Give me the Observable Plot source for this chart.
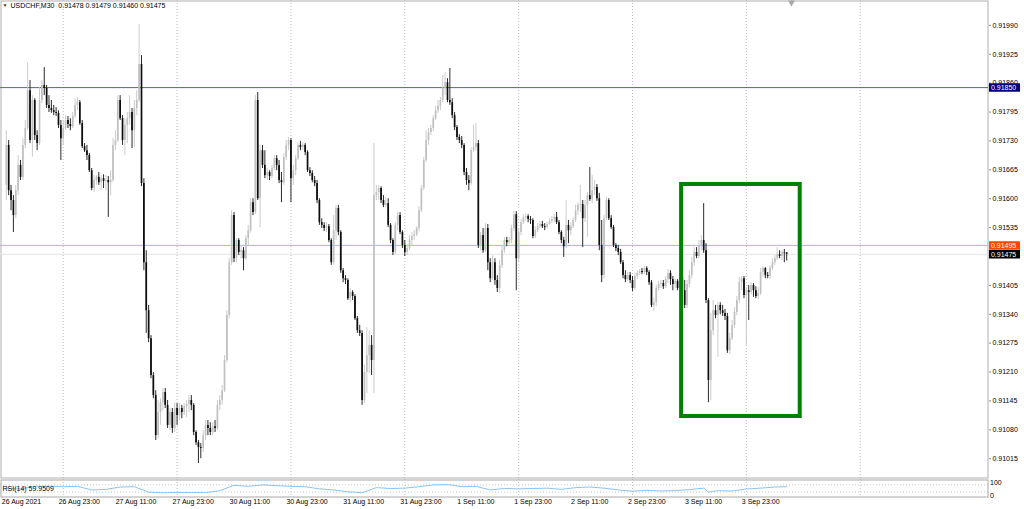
<!DOCTYPE html>
<html>
<head>
<meta charset="utf-8">
<script src="https://cdn.jsdelivr.net/npm/d3@7"></script>
<script src="https://cdn.jsdelivr.net/npm/@observablehq/plot@0.6"></script>
<style>
html,body{margin:0;padding:0;background:#fff;}
#chart svg{display:block;}
</style>
</head>
<body>
<div id="chart"></div>
<script>
// USDCHF M30 candles, prices in units of 0.00001
const opensPts = [
91630,91720,91618,91596,91562,91618,91675,91648,91720,91758,
91843,91731,91821,91742,91724,91821,91855,91848,91810,91803,
91798,91794,91792,91765,91735,91758,91776,91767,91762,91785,
91810,91816,91769,91717,91708,91697,91663,91623,91641,91648,
91636,91645,91639,91641,91636,91641,91720,91731,91821,91780,
91731,91765,91780,91794,91753,91803,91821,91902,91634,91456,
91348,91285,91202,91157,91067,91119,91141,91164,91135,91090,
91119,91083,91128,91112,91128,91119,91132,91137,91146,91135,
91074,91051,91040,91038,91067,91090,91083,91074,91087,91083,
91135,91146,91168,91236,91337,91456,91562,91465,91506,91479,
91483,91465,91510,91528,91591,91569,91821,91600,91708,91675,
91652,91659,91650,91668,91690,91675,91641,91636,91693,91720,
91731,91645,91663,91690,91720,91715,91720,91704,91663,91657,
91641,91634,91596,91546,91540,91533,91537,91506,91456,91528,
91578,91524,91438,91420,91416,91375,91389,91380,91330,91303,
91297,91146,91209,91247,91270,91236,91607,91614,91623,91596,
91585,91589,91540,91506,91479,91540,91562,91524,91495,91479,
91488,91506,91515,91519,91533,91573,91623,91686,91731,91749,
91758,91780,91798,91808,91821,91848,91861,91821,91816,91787,
91760,91738,91731,91720,91659,91641,91634,91708,91715,91724,
91495,91517,91483,91533,91456,91420,91456,91416,91398,91450,
91483,91506,91501,91506,91533,91564,91465,91524,91546,91558,
91560,91553,91551,91515,91528,91537,91542,91537,91535,91542,
91549,91553,91558,91546,91524,91506,91492,91540,91528,91537,
91551,91573,91585,91587,91555,91585,91607,91598,91618,91625,
91600,91495,91427,91555,91596,91555,91535,91495,91488,91479,
91456,91427,91418,91427,91416,91398,91425,91432,91436,91434,
91443,91434,91411,91360,91366,91398,91407,91409,91402,91418,
91432,91418,91407,91414,91398,91423,91393,91360,91407,91427,
91456,91479,91470,91495,91506,91483,91371,91191,91303,91348,
91337,91360,91348,91342,91335,91258,91285,91315,91344,91371,
91411,91420,91382,91393,91389,91405,91393,91380,91387,91434,
91443,91427,91425,91443,91456,91465,91474,91470,91479,91478
];
const highsPts = [
91753,91731,91630,91607,91630,91697,91686,91735,91776,91906,
91866,91832,91825,91753,91850,91866,91895,91855,91832,91821,
91810,91805,91798,91776,91776,91787,91785,91780,91794,91825,
91828,91821,91776,91724,91720,91702,91668,91652,91652,91659,
91652,91654,91652,91650,91663,91735,91753,91832,91832,91787,
91780,91794,91832,91803,91821,91843,91992,91922,91645,91483,
91360,91292,91209,91168,91146,91150,91173,91173,91146,91128,
91128,91141,91139,91139,91135,91139,91146,91157,91157,91139,
91078,91056,91049,91078,91101,91101,91096,91096,91101,91146,
91157,91180,91247,91348,91465,91573,91569,91510,91510,91495,
91490,91517,91540,91600,91600,91832,91839,91720,91720,91708,
91668,91663,91675,91697,91697,91686,91659,91702,91731,91738,
91735,91675,91697,91726,91729,91726,91724,91708,91670,91663,
91650,91641,91600,91555,91546,91546,91542,91510,91562,91585,
91585,91528,91443,91427,91420,91398,91393,91384,91335,91315,
91303,91225,91310,91303,91292,91724,91630,91630,91627,91607,
91603,91600,91544,91510,91546,91569,91569,91528,91506,91495,
91517,91524,91528,91537,91582,91630,91693,91753,91758,91765,
91787,91808,91821,91828,91877,91884,91870,91893,91825,91794,
91765,91744,91740,91724,91668,91652,91715,91765,91769,91731,
91524,91533,91544,91542,91465,91472,91465,91427,91461,91495,
91513,91513,91513,91540,91571,91571,91533,91553,91564,91567,
91564,91560,91555,91537,91544,91549,91549,91544,91546,91555,
91560,91564,91569,91551,91528,91513,91596,91551,91546,91558,
91585,91591,91630,91596,91596,91614,91670,91652,91641,91632,
91612,91551,91562,91603,91600,91562,91540,91499,91495,91486,
91461,91438,91434,91434,91425,91432,91438,91441,91443,91447,
91447,91438,91416,91375,91405,91414,91416,91416,91425,91441,
91438,91425,91418,91418,91432,91427,91416,91416,91438,91468,
91490,91490,91506,91517,91589,91499,91375,91342,91371,91360,
91366,91366,91360,91351,91342,91297,91326,91355,91380,91423,
91425,91425,91400,91405,91411,91409,91402,91400,91443,91447,
91445,91434,91450,91465,91472,91490,91483,91483,91486,91479
];
const lowsPts = [
91596,91607,91573,91524,91555,91607,91641,91641,91713,91753,
91724,91693,91731,91708,91720,91814,91832,91803,91794,91792,
91787,91785,91758,91686,91720,91753,91758,91753,91758,91780,
91798,91765,91713,91704,91686,91659,91618,91614,91630,91630,
91618,91623,91618,91558,91607,91636,91708,91726,91776,91720,
91697,91724,91765,91713,91715,91787,91816,91627,91438,91297,
91276,91195,91150,91056,91060,91090,91123,91128,91083,91078,
91072,91074,91090,91101,91105,91112,91108,91119,91123,91067,
91045,91004,91015,91029,91056,91067,91067,91067,91074,91078,
91123,91135,91164,91231,91330,91450,91456,91456,91472,91465,
91438,91461,91495,91522,91562,91564,91596,91535,91668,91645,
91641,91641,91645,91663,91663,91634,91591,91630,91686,91708,
91591,91630,91652,91686,91708,91708,91697,91659,91650,91636,
91627,91589,91540,91533,91526,91524,91501,91450,91450,91506,
91517,91432,91411,91407,91371,91366,91371,91326,91297,91290,
91135,91139,91162,91206,91202,91162,91596,91596,91589,91580,
91580,91535,91499,91472,91474,91528,91519,91488,91470,91472,
91483,91492,91506,91515,91526,91569,91618,91681,91720,91742,
91751,91776,91792,91798,91816,91832,91816,91810,91780,91753,
91731,91724,91713,91652,91630,91618,91630,91704,91708,91488,
91483,91477,91479,91438,91411,91416,91405,91389,91387,91443,
91477,91492,91497,91499,91526,91393,91456,91517,91542,91549,
91546,91542,91510,91510,91524,91533,91533,91528,91531,91540,
91544,91546,91542,91519,91499,91468,91488,91499,91517,91533,
91546,91562,91569,91490,91546,91513,91594,91589,91607,91594,
91483,91411,91420,91551,91551,91531,91490,91481,91472,91452,
91420,91411,91414,91409,91391,91393,91418,91427,91429,91429,
91427,91405,91355,91346,91357,91393,91398,91396,91398,91409,
91405,91393,91398,91393,91393,91371,91353,91353,91400,91420,
91447,91465,91465,91483,91477,91364,91141,91146,91292,91330,
91243,91339,91335,91326,91252,91249,91281,91308,91337,91364,
91393,91375,91270,91326,91384,91378,91375,91373,91382,91423,
91420,91420,91418,91438,91450,91461,91465,91461,91456,91460
];
const closesPts = [
91720,91618,91596,91562,91618,91675,91648,91720,91758,91843,
91731,91821,91742,91724,91821,91855,91848,91810,91803,91798,
91794,91792,91765,91735,91758,91776,91767,91762,91785,91810,
91816,91769,91717,91708,91697,91663,91623,91641,91648,91636,
91645,91639,91641,91636,91641,91720,91731,91821,91780,91731,
91765,91780,91794,91753,91803,91821,91902,91634,91456,91348,
91285,91202,91157,91067,91119,91141,91164,91135,91090,91119,
91083,91128,91112,91128,91119,91132,91137,91146,91135,91074,
91051,91040,91038,91067,91090,91083,91074,91087,91083,91135,
91146,91168,91236,91337,91456,91562,91465,91506,91479,91483,
91465,91510,91528,91591,91569,91821,91600,91708,91675,91652,
91659,91650,91668,91690,91675,91641,91636,91693,91720,91731,
91645,91663,91690,91720,91715,91720,91704,91663,91657,91641,
91634,91596,91546,91540,91533,91537,91506,91456,91528,91578,
91524,91438,91420,91416,91375,91389,91380,91330,91303,91297,
91146,91209,91247,91270,91236,91607,91614,91623,91596,91585,
91589,91540,91506,91479,91540,91562,91524,91495,91479,91488,
91506,91515,91519,91533,91573,91623,91686,91731,91749,91758,
91780,91798,91808,91821,91848,91861,91821,91816,91787,91760,
91738,91731,91720,91659,91641,91634,91708,91715,91724,91495,
91517,91483,91533,91456,91420,91456,91416,91398,91450,91483,
91506,91501,91506,91533,91564,91465,91524,91546,91558,91560,
91553,91551,91515,91528,91537,91542,91537,91535,91542,91549,
91553,91558,91546,91524,91506,91492,91540,91528,91537,91551,
91573,91585,91587,91555,91585,91607,91598,91618,91625,91600,
91495,91427,91555,91596,91555,91535,91495,91488,91479,91456,
91427,91418,91427,91416,91398,91425,91432,91436,91434,91443,
91434,91411,91360,91366,91398,91407,91409,91402,91418,91432,
91418,91407,91414,91398,91423,91393,91360,91407,91427,91456,
91479,91470,91495,91506,91483,91371,91191,91303,91348,91337,
91360,91348,91342,91335,91258,91285,91315,91344,91371,91411,
91420,91382,91393,91389,91405,91393,91380,91387,91434,91443,
91427,91425,91443,91456,91465,91474,91470,91479,91478,91475
];

// RSI(14) (bar index -> value)
const rsiBars = [0,6,12,18,24,30,36,42,48,54,60,66,72,78,84,90,96,102,108,114,120,126,132,138,144,150,156,162,168,174,180,186,192,198,204,210,216,222,228,234,240,246,252,258,264,270,276,282,288,294,296,300,306,312,318,324,329];
const rsiValues = [50,48,62,63,60,62,42,45,58,60,30,26,28,28,27,38,68,62,70,66,62,60,48,42,32,26,55,50,52,60,70,72,60,62,42,50,48,50,52,45,55,58,52,42,35,40,36,38,44,52,30,38,36,47,52,58,59.9509];

// time axis
const timeTickBars = [0,24,48,72,96,120,144,168,192,216,240,264,288,312];
const timeTickLabels = ["26 Aug 2021","26 Aug 23:00","27 Aug 11:00","27 Aug 23:00","30 Aug 11:00","30 Aug 23:00","31 Aug 11:00","31 Aug 23:00","1 Sep 11:00","1 Sep 23:00","2 Sep 11:00","2 Sep 23:00","3 Sep 11:00","3 Sep 23:00"];
const gridBars = [24,72,120,168,216,264,312,360];

// price axis
const priceTicks = [0.91015,0.91080,0.91145,0.91210,0.91275,0.91340,0.91405,0.91535,0.91600,0.91665,0.91730,0.91795,0.91860,0.91925,0.91990];
const levelPrices = [0.91850, 0.91495];
const levelColors = ["#5252e6", "#ff9c80"];
const levelBoxColors = ["#000080", "#ff4500"];
const bidPrice = 0.91475;
const rsiScaleLabels = ["100", "0"];

// annotation rectangle (bar index, price)
const boxBars = [284.7, 334.7];
const boxPrices = [0.91110, 0.91632];

const symbolName = "USDCHF,M30";
const rsiName = "RSI(14)";

const n = opensPts.length;
const candles = d3.range(n).map(i => ({
  i, open: opensPts[i] / 1e5, high: highsPts[i] / 1e5, low: lowsPts[i] / 1e5, close: closesPts[i] / 1e5
}));
const last = candles[n - 1];
const f5 = d3.format(".5f");
const bull = "#c0c0c0", bear = "#0c0c0c";
const col = d => d.close >= d.open ? bull : bear;
const wickCol = d => d.close >= d.open ? "#cbcbcb" : "#2a2a2a";

const xDomain = [-2.445, 414.08];
const xMax = xDomain[1];
const font = "Liberation Sans, Arial, sans-serif";
const fs = 7;

const main = Plot.plot({
  width: 1024, height: 478,
  marginLeft: 0, marginRight: 36, marginTop: 0, marginBottom: 0,
  x: {domain: xDomain, axis: null},
  y: {domain: [0.909705, 0.92046], axis: null},
  style: {fontFamily: font, fontSize: "7px", background: "#fff", overflow: "visible", color: "#000"},
  marks: [
    Plot.frame({stroke: "#b0b0b0", inset: 0.5}),
    Plot.ruleX(gridBars, {stroke: "#bdbdbd", strokeDasharray: "1,2"}),
    Plot.ruleY([bidPrice], {stroke: "#e4e4e4"}),
    Plot.ruleY(levelPrices, {stroke: (d, i) => levelColors[i]}),
    Plot.ruleX(candles, {x: "i", y1: "low", y2: "high", stroke: wickCol, strokeWidth: 1}),
    Plot.ruleX(candles, {x: "i", y1: "open", y2: "close", stroke: col, strokeWidth: 1.7}),
    Plot.rect([0], {x1: () => boxBars[0], x2: () => boxBars[1], y1: () => boxPrices[0], y2: () => boxPrices[1], fill: "none", stroke: "#008000", strokeWidth: 4}),
    Plot.axisY({anchor: "right", ticks: priceTicks, tickFormat: f5, tickSize: 2, tickPadding: 2, fontSize: fs, stroke: "#888"}),
    Plot.ruleY([bidPrice], {x1: xMax + 0.4, x2: xMax + 13.5, stroke: "#000", strokeWidth: 8.5}),
    Plot.ruleY(levelPrices, {x1: xMax + 0.4, x2: xMax + 13.5, stroke: (d, i) => levelBoxColors[i], strokeWidth: 8.5}),
    Plot.text([bidPrice, ...levelPrices], {x: xMax + 0.4, y: d => d, text: d => f5(d), textAnchor: "start", dx: 1.5, fill: "#fff", fontSize: fs}),
    Plot.text(["\u25BC"], {frameAnchor: "top-left", dx: 2, dy: 3, lineAnchor: "top", textAnchor: "start", fontSize: 5, fill: "#333"}),
    Plot.text([`${symbolName}  ${f5(last.open)} ${f5(last.high)} ${f5(last.low)} ${f5(last.close)}`], {frameAnchor: "top-left", dx: 10, dy: 2.5, lineAnchor: "top", textAnchor: "start", fontSize: fs, fill: "#000"}),
    Plot.dot([0], {x: () => n + 1, frameAnchor: "top", symbol: "triangle", rotate: 180, r: 2.6, fill: "#a8a8a8", stroke: "none", dy: 2})
  ]
});

const rsi = rsiBars.map((b, k) => ({b, v: rsiValues[k]}));
const sub = Plot.plot({
  width: 1024, height: 31,
  marginLeft: 0, marginRight: 36, marginTop: 1, marginBottom: 12,
  x: {domain: xDomain, axis: null},
  y: {domain: [0, 100], axis: null},
  style: {fontFamily: font, fontSize: "7px", background: "#fff", overflow: "visible", color: "#000"},
  marks: [
    Plot.ruleX(gridBars, {stroke: "#bdbdbd", strokeDasharray: "1,2"}),
    Plot.ruleY([30, 70], {stroke: "#c8c8c8", strokeDasharray: "1,2"}),
    Plot.line(rsi, {x: "b", y: "v", stroke: "#8cc4f2", strokeWidth: 1}),
    Plot.frame({stroke: "#a8a8a8", inset: 0.5}),
    Plot.text([`${rsiName} ${rsiValues[rsiValues.length - 1].toFixed(4)}`], {frameAnchor: "left", dx: 2, textAnchor: "start", fontSize: fs, fill: "#000"}),
    Plot.text([rsiScaleLabels[0]], {x: xMax, y: 100, dx: 1.5, dy: 0.5, textAnchor: "start", lineAnchor: "top", fontSize: fs}),
    Plot.text([rsiScaleLabels[1]], {x: xMax, y: 0, dx: 1.5, textAnchor: "start", lineAnchor: "bottom", fontSize: fs}),
    Plot.text(timeTickBars, {x: d => d, text: (d, i) => timeTickLabels[i], frameAnchor: "bottom", lineAnchor: "top", textAnchor: "start", dx: -4.5, dy: 2, fontSize: fs, fill: "#000"})
  ]
});

const root = document.getElementById("chart");
root.append(main, sub);
</script>
</body>
</html>
